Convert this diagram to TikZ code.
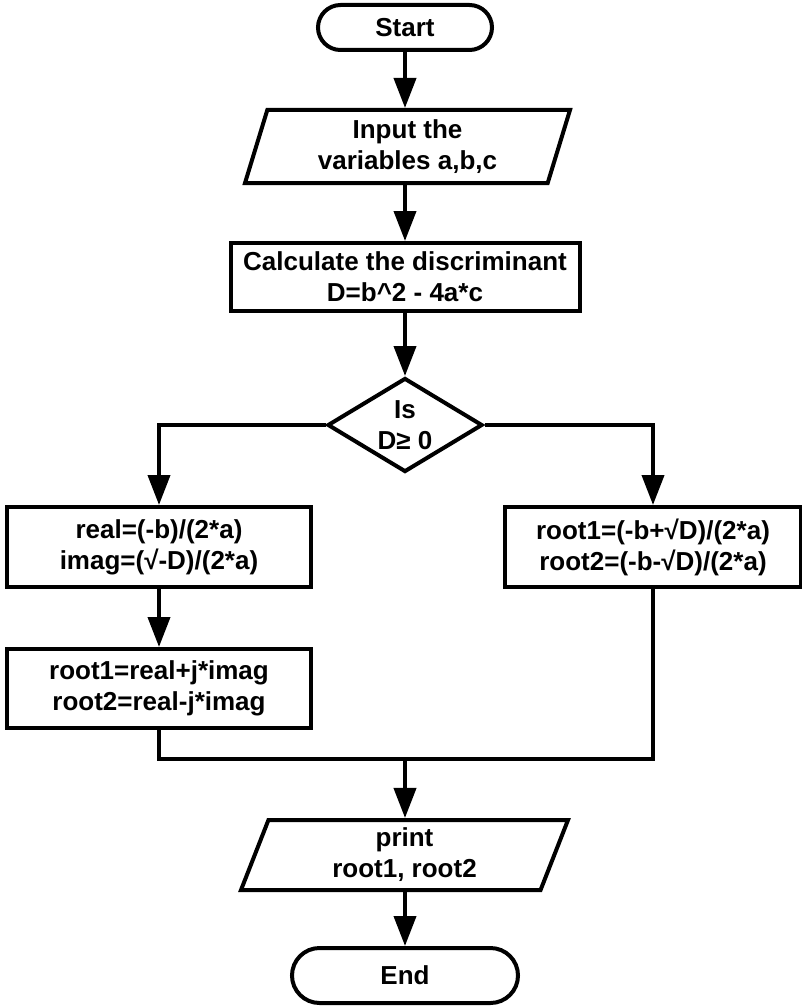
\documentclass[tikz,border=0pt]{standalone}
\usepackage{fontspec}
\setmainfont{Liberation Sans}
\usetikzlibrary{shapes.geometric,arrows.meta}
\begin{document}
\begin{tikzpicture}[x=1pt,y=-1pt,
  every node/.style={font=\bfseries\fontsize{26}{31}\selectfont, align=center, line width=4pt, inner sep=0pt},
  term/.style={draw, rectangle},
  box/.style={draw, rectangle},
  io/.style={draw, trapezium, trapezium stretches body},
  decision/.style={draw, diamond, aspect=1.65},
  conn/.style={line width=4pt},
  arr/.style={conn, -{Triangle[length=30pt,width=22pt]}}
]
\useasboundingbox (0,0) rectangle (802,1006);

\node[term, rounded corners=22.5pt, minimum width=174pt, minimum height=45pt] (start) at (405,27.5) {Start};
\node[io, trapezium left angle=67.5, trapezium right angle=112.5, minimum width=325pt, minimum height=73pt] (inp) at (407.5,146.5) {Input the\\variables a,b,c};
\node[box, minimum width=349pt, minimum height=68pt] (calc) at (405,277) {Calculate the discriminant\\D=b\textasciicircum 2 - 4a*c};
\node[decision, minimum width=155pt, minimum height=94pt] (dec) at (405,425) {Is\\D≥ 0};
\node[box, minimum width=304pt, minimum height=80pt] (l1) at (159,547) {real=(-b)/(2*a)\\imag=(√-D)/(2*a)};
\node[box, minimum width=304pt, minimum height=79pt] (l2) at (159,688.5) {root1=real+j*imag\\root2=real-j*imag};
\node[box, minimum width=296pt, minimum height=80pt] (r1) at (653,547) {root1=(-b+√D)/(2*a)\\root2=(-b-√D)/(2*a)};
\coordinate (m) at (405,759);
\node[io, trapezium left angle=63, trapezium right angle=117, minimum width=327pt, minimum height=70pt] (pr) at (404.5,855) {print\\root1, root2};
\node[term, rounded corners=27.5pt, minimum width=226pt, minimum height=55pt] (end) at (405,975.5) {End};

\draw[arr] (start.south) -- (start.south |- inp.north);
\draw[arr] (calc.north |- inp.south) -- (calc.north);
\draw[arr] (calc.south) -- (dec.north);
\draw[arr] (dec.west) -| (l1.north);
\draw[arr] (dec.east) -| (r1.north);
\draw[arr] (l1.south) -- (l2.north);
\draw[conn] (l2.south) |- (m) -| (r1.south);
\draw[arr] (m) -- (m |- pr.north);
\draw[arr] (m |- pr.south) -- (end.north);
\end{tikzpicture}
\end{document}
